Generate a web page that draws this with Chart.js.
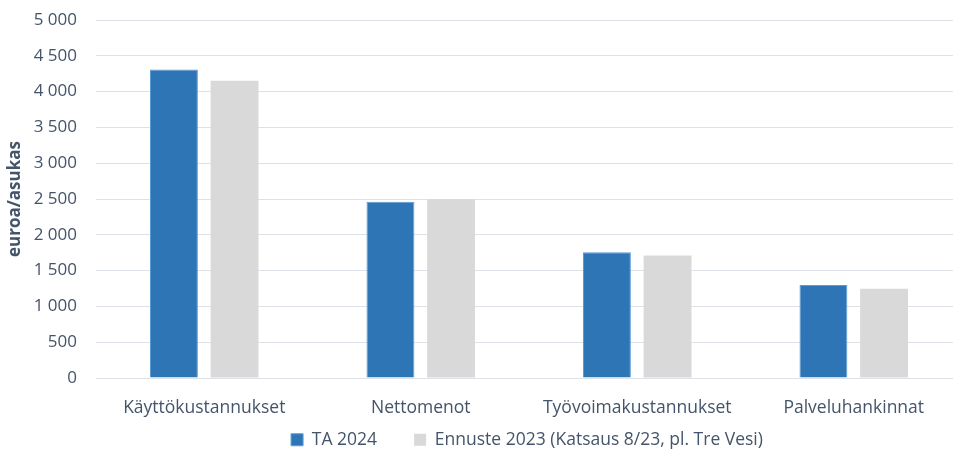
<!DOCTYPE html>
<html>
<head>
<meta charset="utf-8">
<script src="https://cdn.jsdelivr.net/npm/chart.js@4/dist/chart.umd.min.js"></script>
<style>
  html, body { margin: 0; padding: 0; background: #fff; overflow: hidden; }
  #wrap { width: 962px; height: 452px; position: relative; }
</style>
</head>
<body>
<div id="wrap"><canvas id="c"></canvas></div>
<script>
const categories = ["Käyttökustannukset", "Nettomenot", "Työvoimakustannukset", "Palveluhankinnat"];
const seriesNames = ["TA 2024", "Ennuste 2023 (Katsaus 8/23, pl. Tre Vesi)"];
const ta2024 = [4310, 2460, 1755, 1300];
const ennuste2023 = [4150, 2495, 1710, 1245];
const yTicks = [0, 500, 1000, 1500, 2000, 2500, 3000, 3500, 4000, 4500, 5000];
const yTitle = "euroa/asukas";

const textColor = "#44546a";
const fontFamily = "'Open Sans', sans-serif";

function fmt(v) {
  return String(v).replace(/\B(?=(\d{3})+(?!\d))/g, " ");
}

const legendAdjust = {
  id: "legendAdjust",
  afterInit(chart) {
    const lg = chart.legend;
    if (lg && !lg._patched) {
      const orig = lg.fit.bind(lg);
      lg.fit = function () { orig(); this.height = 32; };
      lg._patched = true;
    }
  },
  afterLayout(chart) {
    const lg = chart.legend;
    if (lg) {
      lg.left += 46; lg.right += 46;
      lg.top = 394; lg.bottom = chart.height;
    }
  }
};

new Chart(document.getElementById("c"), {
  type: "bar",
  data: {
    labels: categories,
    datasets: [
      { label: seriesNames[0], data: ta2024, backgroundColor: "#2E75B6", borderColor: "#5b9bd5", borderWidth: 1,
        categoryPercentage: 0.56, barPercentage: 0.79 },
      { label: seriesNames[1], data: ennuste2023, backgroundColor: "#D9D9D9", borderWidth: 0,
        categoryPercentage: 0.56, barPercentage: 0.79 }
    ]
  },
  options: {
    responsive: true,
    maintainAspectRatio: false,
    animation: false,
    devicePixelRatio: 1,
    layout: { padding: { top: 20, bottom: 0, left: 0, right: 0 } },
    plugins: {
      legend: {
        position: "bottom",
        labels: {
          color: textColor,
          font: { family: fontFamily, size: 17.5 },
          boxWidth: 12, boxHeight: 12, padding: 37
        }
      },
      tooltip: { enabled: false }
    },
    scales: {
      x: {
        grid: { display: false, drawTicks: false },
        border: { display: false },
        ticks: { color: textColor, font: { family: fontFamily, size: 17.5 }, padding: 20, maxRotation: 0 },
        afterFit(s) { s.height = 42; }
      },
      y: {
        min: 0, max: 5000,
        afterBuildTicks(s) { s.ticks = yTicks.map(v => ({ value: v })); },
        grid: { color: "#dde2e8", lineWidth: 1, drawTicks: false },
        border: { display: false },
        ticks: { color: textColor, font: { family: fontFamily, size: 17 }, padding: 19, callback: v => fmt(v) },
        title: { display: true, text: yTitle, color: textColor, font: { family: fontFamily, size: 17, weight: "bold" }, padding: { top: 5, bottom: 0 } },
        afterFit(s) { s.width = 96; s.paddingTop = 0; s.paddingBottom = 0; }
      }
    }
  },
  plugins: [legendAdjust]
});
</script>
</body>
</html>
